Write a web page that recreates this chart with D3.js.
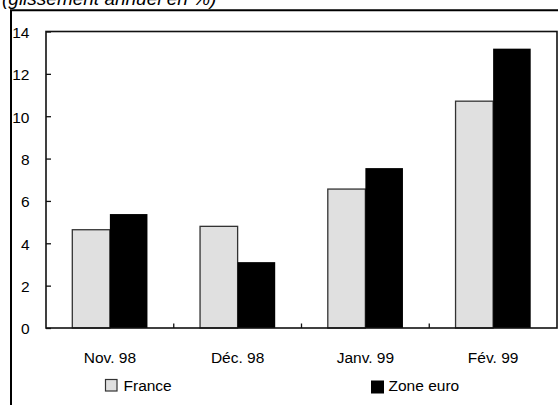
<!DOCTYPE html>
<html>
<head>
<meta charset="utf-8">
<script src="https://cdn.jsdelivr.net/npm/d3@7"></script>
<style>
  html, body { margin: 0; padding: 0; background: #fff; }
  svg { display: block; font-family: "Liberation Sans", Arial, sans-serif; }
</style>
</head>
<body>
<svg id="chart" width="558" height="405"></svg>
<script>
// Monthly figures, year-on-year change (%)
const categories = ["Nov. 98", "Déc. 98", "Janv. 99", "Fév. 99"];
const seriesNames = ["France", "Zone euro"];
const france = [4.64, 4.80, 6.56, 10.71];
const zoneEuro = [5.38, 3.11, 7.55, 13.19];
const yTicks = [0, 2, 4, 6, 8, 10, 12, 14];
const title = "(glissement annuel en %)";

const colors = { "France": "#e0e0e0", "Zone euro": "#000000" };
const rows = categories.map((c, i) => ({ cat: c, values: [
  { key: "France", value: france[i] },
  { key: "Zone euro", value: zoneEuro[i] }
]}));

const svg = d3.select("#chart");
const plot = { left: 46, right: 557, top: 31.5, bottom: 328 };

const x = d3.scaleBand().domain(categories).range([plot.left, plot.right]).padding(0);
const xs = d3.scaleBand().domain(seriesNames).range([0, x.bandwidth()])
  .paddingInner(0).paddingOuter(0.7);
const y = d3.scaleLinear().domain([0, 14]).range([plot.bottom, plot.top]);

// Title (partly above the page edge)
svg.append("text")
  .attr("x", 2).attr("y", 5)
  .attr("font-size", 19).attr("font-style", "italic")
  .attr("fill", "#000")
  .text(title);

// Outer frame
svg.append("path")
  .attr("d", "M11,405V10.3H558")
  .attr("fill", "none").attr("stroke", "#000").attr("stroke-width", 2);

// Bars
const groups = svg.append("g").selectAll("g").data(rows).join("g")
  .attr("transform", d => `translate(${x(d.cat)},0)`);
groups.selectAll("rect").data(d => d.values).join("rect")
  .attr("x", d => xs(d.key))
  .attr("width", xs.bandwidth())
  .attr("y", d => y(d.value))
  .attr("height", d => y(0) - y(d.value))
  .attr("fill", d => colors[d.key])
  .attr("stroke", d => d.key === "France" ? "#333" : "none")
  .attr("stroke-width", 1.3);

// Plot box
svg.append("rect")
  .attr("x", plot.left).attr("y", plot.top)
  .attr("width", plot.right - plot.left).attr("height", plot.bottom - plot.top)
  .attr("fill", "none").attr("stroke", "#111").attr("stroke-width", 1.6);

// Y axis: inward ticks, labels right-aligned
const yAxis = d3.axisLeft(y).tickValues(yTicks).tickSizeInner(-5).tickSizeOuter(0).tickPadding(16.5);
const gy = svg.append("g").attr("transform", `translate(${plot.left},0)`).call(yAxis);
gy.select(".domain").remove();
gy.selectAll("line").attr("stroke", "#111").attr("stroke-width", 1.3);
gy.selectAll("text").attr("font-size", 15.5).attr("fill", "#000")
  .attr("font-family", "'Liberation Sans', Arial, sans-serif").attr("dy", "0.38em");

// X axis: category labels, inward boundary ticks
const xAxis = d3.axisBottom(x).tickSize(0).tickPadding(24);
const gx = svg.append("g").attr("transform", `translate(0,${plot.bottom})`).call(xAxis);
gx.select(".domain").remove();
gx.selectAll("text").attr("font-size", 15.5).attr("fill", "#000")
  .attr("font-family", "'Liberation Sans', Arial, sans-serif");

const bounds = categories.slice(1).map(c => x(c));
svg.append("g").selectAll("line").data(bounds).join("line")
  .attr("x1", d => d).attr("x2", d => d)
  .attr("y1", plot.bottom).attr("y2", plot.bottom - 4.5)
  .attr("stroke", "#111").attr("stroke-width", 1.3);

// Legend
const legendItems = [
  { key: "France", x: 105.5 },
  { key: "Zone euro", x: 371 }
];
const lg = svg.append("g").selectAll("g").data(legendItems).join("g")
  .attr("transform", d => `translate(${d.x},379.5)`);
lg.append("rect")
  .attr("width", d => d.key === "France" ? 11.5 : 13)
  .attr("height", d => d.key === "France" ? 11.5 : 13)
  .attr("y", d => d.key === "France" ? 0 : 1)
  .attr("fill", d => colors[d.key])
  .attr("stroke", d => d.key === "France" ? "#333" : "none")
  .attr("stroke-width", 1.2);
lg.append("text")
  .attr("x", d => d.key === "France" ? 18 : 17.5)
  .attr("y", 11.5)
  .attr("font-size", 15.5)
  .attr("fill", "#000")
  .text(d => d.key);
</script>
</body>
</html>
